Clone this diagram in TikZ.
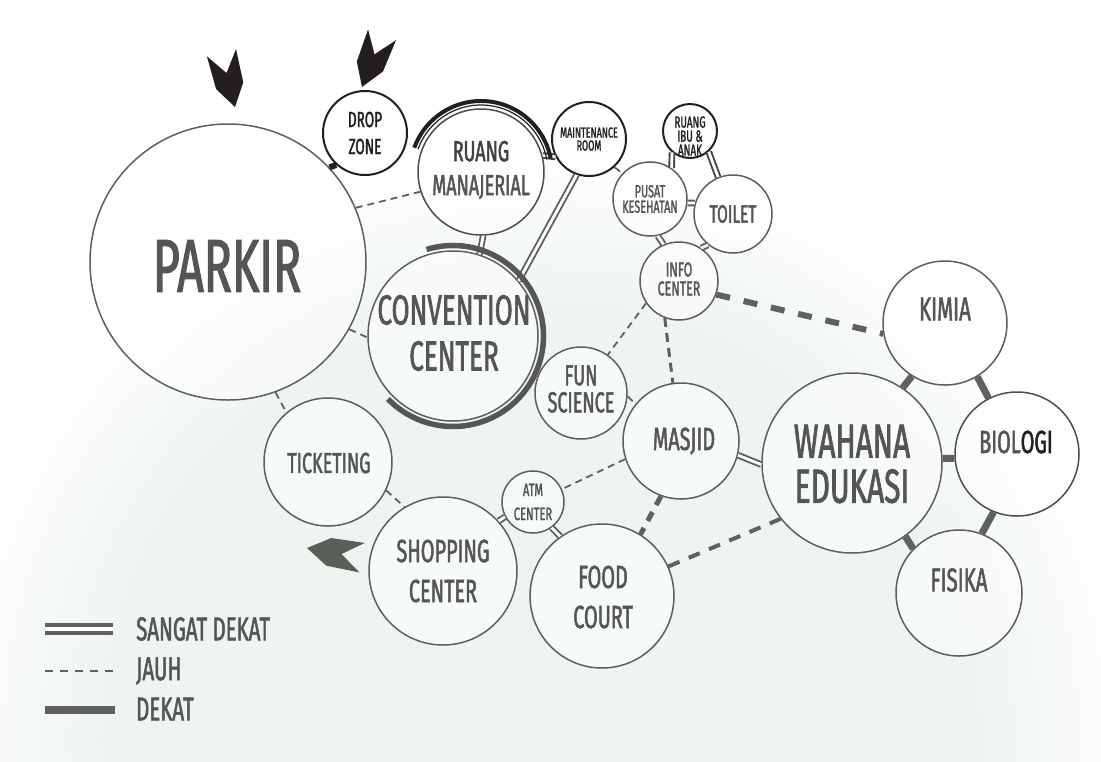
\documentclass[tikz,border=0pt]{standalone}
\usepackage{fontspec}
\setmainfont{Fira Sans}[FakeStretch=0.62, FakeBold=1.5]
\usetikzlibrary{calc}
\definecolor{ink}{HTML}{231F20}
\definecolor{txt}{HTML}{555555}
\definecolor{ln}{HTML}{5E5E5E}
\definecolor{cn}{HTML}{606060}
\definecolor{mint}{HTML}{EEF5F1}
\definecolor{arrowgray}{HTML}{5A5F5A}
\newcommand\myfs[2]{\fontsize{#1}{#2}\selectfont}
\pgfdeclareradialshading{mintfade}{\pgfpoint{0bp}{0bp}}{color(0bp)=(mint); color(18bp)=(mint); color(25bp)=(white); color(50bp)=(white)}
\begin{document}
\begin{tikzpicture}[x=1pt,y=-1pt,
  circ/.style={circle, draw=ln, line width=1.5pt, fill=white, fill opacity=0.5, inner sep=0pt, minimum size=#1},
  lbl/.style={align=center, inner sep=0pt, text=txt},
  sd/.style={draw=cn, line width=1.9pt, double=white, double distance=2.8pt},
  sdk/.style={sd, draw=ink!85},
  jauh/.style={draw=cn, line width=1.8pt, dash pattern=on 7pt off 5pt},
  jauhb/.style={draw=cn, line width=3pt, dash pattern=on 9pt off 6pt},
  jauhc/.style={draw=cn, line width=4pt, dash pattern=on 12pt off 10pt},
  jauhd/.style={draw=cn, line width=6pt, dash pattern=on 14pt off 14pt},
  dekat/.style={draw=cn, line width=7pt},
  leg/.style={anchor=west, inner sep=0pt, text=txt, font=\myfs{33}{35}},
  pics/fatarrow/.style={code={\fill (0,0) -- (-22,14) -- (-56,15) -- (-35,0) -- (-56,-15) -- (-22,-14) -- cycle;}}
]
\useasboundingbox (0,0) rectangle (1101,761);
\fill[white] (0,0) rectangle (1101,761);
\begin{scope}
\clip (0,0) rectangle (1101,761);
\shade[shading=mintfade] (540,740) circle[radius=600];
\end{scope}

% circles
\node[circ=276pt] (parkir) at (228,262) {};
\node[circ=84pt, draw=ink, line width=2pt] (drop) at (365,133) {};
\node[circ=126pt, draw=ink!80] (ruang) at (481,172) {};
\node[circ=74pt, draw=ink, line width=2pt] (maint) at (589,139) {};
\node[circ=54pt, draw=ink, line width=2pt] (ibu) at (690,131) {};
\node[circ=74pt] (pusat) at (650,199) {};
\node[circ=78pt] (toilet) at (733,214) {};
\node[circ=78pt] (info) at (679,281) {};
\node[circ=170pt] (conv) at (453,336) {};
\node[circ=92pt] (fun) at (581,393) {};
\node[circ=116pt] (masjid) at (681,441) {};
\node[circ=62pt] (atm) at (533,502) {};
\node[circ=148pt] (shop) at (443,571) {};
\node[circ=128pt] (tick) at (328,462) {};
\node[circ=144pt] (food) at (602,596) {};
\node[circ=180pt] (wahana) at (852,463) {};
\node[circ=124pt] (kimia) at (945,323) {};
\node[circ=124pt, draw=ink!80] (bio) at (1017,454) {};
\node[circ=126pt] (fisika) at (959,593) {};

% connectors
\draw[dekat, draw=ink, line width=6pt] (parkir.43) -- (drop.-132);
\draw[jauh] (parkir.23) -- (ruang.198);
\draw[jauh] (parkir.-29) -- (conv.181);
\draw[jauh] (parkir.-70) -- (tick.130);
\draw[sdk] (ruang.15) -- (maint.208);
\draw[sd] (ruang.-88) -- (conv.72);
\draw[sd] (maint.-109) -- (conv.40);
\draw[jauh] (maint.-48) -- (pusat.137);
\draw[sdk] (ibu.-130) -- (pusat.55);
\draw[sdk] (ibu.-48) -- (toilet.112);
\draw[sd] (pusat.-6) -- (toilet.164);
\draw[sd] (pusat.-78) -- (info.113);
\draw[sd] (toilet.-129) -- (info.56);
\draw[jauhd] (info.-20) -- (kimia.190);
\draw[jauh] (info.-146) -- (fun.55);
\draw[jauhb] (info.-111) -- (masjid.98);
\draw[jauh] (fun.-4) -- (masjid.141);
\draw[sd] (masjid.-14) -- (wahana.181);
\draw[jauh] (masjid.-162) -- (atm.24);
\draw[jauhc, line width=5pt, dash pattern=on 10pt off 8pt] (masjid.-110) -- (food.58);
\draw[jauhc] (food.24) -- (wahana.-142);
\draw[sd] (atm.-152) -- (shop.42);
\draw[sd] (atm.-54) -- (food.125);
\draw[jauh] (tick.-26) -- (shop.121);
\draw[dekat] (wahana.56) -- (kimia.-122);
\draw[dekat] (kimia.-59) -- (bio.117);
\draw[dekat] (wahana.3) -- (bio.184);
\draw[dekat] (wahana.-54) -- (fisika.136);
\draw[dekat] (bio.-112) -- (fisika.69);

% arcs
\draw[draw=cn!90!black, line width=5.5pt] ($(conv.center)+(-107:90.5)$) arc[start angle=-107, end angle=136, radius=90.5];
\draw[draw=ink, line width=4pt] ($(ruang.center)+(-160:71)$) arc[start angle=-160, end angle=-11, radius=71];
\draw[draw=ink, line width=1.2pt] ($(ruang.center)+(-160:67)$) arc[start angle=-160, end angle=-11, radius=67];

% labels
\node[lbl, font=\myfs{75}{80}] (parkir-t) at (227,266) {PARKIR};
\node[lbl, text=ink, font=\myfs{22}{27}] (drop-t) at (365,133) {DROP\\ZONE};
\node[lbl, font=\myfs{29}{34}] (ruang-t) at (481,170) {\textcolor{ink!85}{RUANG}\\MANAJERIAL};
\node[lbl, text=ink, font=\myfs{14.5}{13}] (maint-t) at (589,139) {MAINTENANCE\\ROOM};
\node[lbl, text=ink, font=\myfs{16}{14}] (ibu-t) at (690,136) {RUANG\\IBU \&\\ANAK};
\node[lbl, font=\myfs{17.5}{15.5}] (pusat-t) at (650,199) {PUSAT\\KESEHATAN};
\node[lbl, font=\myfs{25}{28}] (toilet-t) at (733,214) {TOILET};
\node[lbl, font=\myfs{20}{19}] (info-t) at (679,279) {INFO\\CENTER};
\node[lbl, font=\myfs{42}{46}] (conv-t) at (454,333) {CONVENTION\\CENTER};
\node[lbl, font=\myfs{29}{27}] (fun-t) at (581,389) {FUN\\SCIENCE};
\node[lbl, font=\myfs{32}{34}] (masjid-t) at (684,441) {MASJID};
\node[lbl, font=\myfs{18}{24}] (atm-t) at (533,502) {ATM\\CENTER};
\node[lbl, font=\myfs{29}{32}] (tick-t) at (329,463) {TICKETING};
\node[lbl, font=\myfs{32}{40}] (shop-t) at (443,571) {SHOPPING\\CENTER};
\node[lbl, font=\myfs{32}{40}] (food-t) at (603,597) {FOOD\\COURT};
\node[lbl, font=\myfs{48}{45}] (wahana-t) at (852,464) {WAHANA\\EDUKASI};
\node[lbl, font=\myfs{33}{36}] (kimia-t) at (945,309) {KIMIA};
\node[lbl, font=\myfs{32}{36}] (bio-t) at (1016,442) {BIOL\textcolor{ink}{OGI}};
\node[lbl, font=\myfs{33}{36}] (fisika-t) at (959,580) {FISIKA};

% entrance arrows
\pic[fill=ink, rotate=-76] at (235,107) {fatarrow};
\pic[fill=ink, rotate=-111] at (362,87) {fatarrow};
\pic[fill=arrowgray, rotate=170] at (307,548) {fatarrow};

% legend
\coordinate (l1a) at (45,629); \coordinate (l1b) at (113,629);
\coordinate (l2a) at (45,671); \coordinate (l2b) at (113,671);
\coordinate (l3a) at (45,710); \coordinate (l3b) at (115,710);
\draw[draw=cn, line width=3.5pt, double=white, double distance=4.5pt] (l1a) -- (l1b);
\draw[draw=cn, line width=2.5pt, dash pattern=on 7.7pt off 7.3pt] (l2a) -- (l2b);
\draw[draw=cn, line width=8pt] (l3a) -- (l3b);
\node[leg] (l1t) at (136,629) {SANGAT DEKAT};
\node[leg] (l2t) at (136,671) {JAUH};
\node[leg] (l3t) at (136,709) {DEKAT};
\end{tikzpicture}
\end{document}
